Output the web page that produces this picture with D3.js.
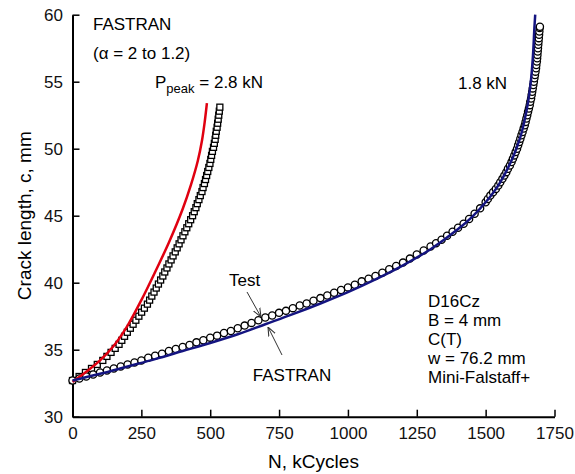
<!DOCTYPE html>
<html>
<head>
<meta charset="utf-8">
<script src="https://cdn.jsdelivr.net/npm/d3@7"></script>
<style>
  body { margin: 0; background: #fff; }
  text { font-family: "Liberation Sans", Arial, sans-serif; }
</style>
</head>
<body>
<svg class="chart"></svg>
<script>
// Test data, 2.8 kN (squares): [N kCycles, c mm]
var test28 = [
  [0,32.7],[24,33.0],[47,33.3],[69,33.6],[90,33.9],[110,34.2],[125,34.5],[140,34.8],
  [155,35.1],[169,35.4],[179,35.7],[189,36.0],[199,36.3],[210,36.6],[220,36.9],[230,37.2],
  [241,37.5],[251,37.8],[261,38.1],[272,38.4],[280,38.7],[288,39.0],[296,39.3],[304,39.6],
  [312,39.9],[320,40.2],[328,40.5],[335,40.8],[343,41.1],[350,41.4],[358,41.7],[365,42.0],
  [373,42.3],[380,42.6],[387,42.9],[394,43.2],[401,43.5],[408,43.8],[415,44.1],[422,44.4],
  [429,44.7],[436,45.0],[442,45.3],[448,45.6],[453,45.9],[459,46.2],[464,46.5],[470,46.8],
  [474,47.1],[479,47.4],[483,47.7],[487,48.0],[491,48.3],[495,48.6],[499,48.9],[502,49.2],
  [505,49.5],[508,49.8],[512,50.1],[515,50.4],[518,50.7],[520,51.0],[522,51.3],[525,51.6],
  [527,51.9],[529,52.2],[531,52.5],[533,52.8],[535,53.1]
];

// Test data, 1.8 kN (circles)
var test18 = [
  [0,32.7],[25,32.85],[50,33.0],[75,33.15],[100,33.3],[125,33.45],[150,33.6],[175,33.75],
  [200,33.9],[225,34.05],[250,34.2],[275,34.4],[300,34.55],[325,34.7],[350,34.9],[375,35.05],
  [400,35.2],[425,35.35],[450,35.55],[475,35.7],[500,35.9],[525,36.05],[550,36.25],[575,36.4],
  [600,36.6],[625,36.8],[650,37.0],[675,37.2],[700,37.4],[725,37.55],[750,37.75],[775,37.9],
  [800,38.1],[825,38.3],[850,38.45],[875,38.65],[900,38.85],[925,39.05],[950,39.25],[975,39.45],
  [1000,39.65],[1025,39.85],[1050,40.1],[1075,40.3],[1100,40.5],[1125,40.75],[1150,41.0],
  [1175,41.25],[1200,41.5],[1225,41.8],[1250,42.1],[1275,42.4],[1300,42.7],[1320,42.95],
  [1340,43.2],[1360,43.5],[1380,43.8],[1400,44.1],[1420,44.4],[1440,44.75],[1460,45.15],
  [1480,45.55],[1500,46.0],[1508,46.25],[1517,46.5],[1527,46.75],[1537,47.0],[1546,47.25],
  [1553,47.5],[1561,47.75],[1568,48.0],[1575,48.25],[1581,48.5],[1588,48.75],[1594,49.0],
  [1599,49.25],[1604,49.5],[1609,49.75],[1614,50.0],[1618,50.25],[1622,50.5],[1626,50.75],
  [1630,51.0],[1634,51.25],[1638,51.5],[1642,51.75],[1645,52.0],[1648,52.25],[1651,52.5],
  [1654,52.75],[1657,53.0],[1660,53.25],[1662,53.5],[1665,53.75],[1667,54.0],[1669,54.25],
  [1671,54.5],[1673,54.75],[1675,55.0],[1677,55.25],[1679,55.5],[1681,55.75],[1683,56.0],
  [1684,56.25],[1686,56.5],[1687,56.75],[1688,57.0],[1689,57.25],[1690,57.5],[1691,57.75],
  [1692,58.0],[1693,58.25],[1694,58.5],[1695,58.75],[1696,59.0],[1697,59.1]
];

// FASTRAN predictions
var fastran28 = [
  [0,32.6],[50,33.35],[100,34.2],[150,35.3],[200,36.8],[250,38.7],[300,40.8],[350,43.0],
  [400,45.5],[430,47.3],[455,49.1],[470,50.6],[480,52.0],[488,53.4]
];
var fastran18 = [
  [0,32.7],[100,33.2],[200,33.75],[300,34.3],[400,34.9],[500,35.5],[600,36.15],[700,36.9],
  [800,37.65],[900,38.45],[1000,39.3],[1100,40.25],[1200,41.3],[1300,42.5],[1400,44.0],
  [1450,44.9],[1500,46.0],[1550,47.4],[1600,49.4],[1625,50.8],[1640,52.0],[1655,53.6],
  [1665,55.2],[1672,57.0],[1677,59.0],[1680,60.0]
];

var xTicks = [0, 250, 500, 750, 1000, 1250, 1500, 1750];
var yTicks = [30, 35, 40, 45, 50, 55, 60];

var infoLines = ['D16Cz', 'B = 4 mm', 'C(T)', 'w = 76.2 mm', 'Mini-Falstaff+'];

var margin = { top: 14.7, right: 20.5, bottom: 57.3, left: 72.5 };
var width = 575 - margin.left - margin.right,
    height = 474 - margin.top - margin.bottom;

var svg = d3.select('.chart')
    .attr('width', 575)
    .attr('height', 474);

var chart = svg.append('g')
    .attr('transform', `translate(${margin.left}, ${margin.top})`);

var x = d3.scaleLinear().domain([0, 1750]).range([0, width]);
var y = d3.scaleLinear().domain([30, 60]).range([height, 0]);

// Axes, ticks pointing inward
var xAxis = chart.append('g')
    .attr('transform', `translate(0, ${height})`)
    .call(d3.axisBottom(x).tickValues(xTicks).tickFormat(d3.format('d'))
      .tickSizeInner(-7).tickSizeOuter(0).tickPadding(10));
var yAxis = chart.append('g')
    .call(d3.axisLeft(y).tickValues(yTicks).tickFormat(d3.format('d'))
      .tickSizeInner(-7).tickSizeOuter(0).tickPadding(9.5));

[xAxis, yAxis].forEach(function(a) {
  a.select('.domain').attr('stroke', '#000').attr('stroke-width', 2);
  a.selectAll('.tick line').attr('stroke', '#000').attr('stroke-width', 1.5);
  a.selectAll('.tick text')
    .attr('font-size', 17)
    .attr('font-family', '"Liberation Sans", Arial, sans-serif')
    .attr('fill', '#111');
});

chart.append('text')
    .attr('x', width / 2).attr('y', height + 51)
    .attr('text-anchor', 'middle')
    .attr('font-size', 19)
    .text('N, kCycles');

chart.append('text')
    .attr('transform', `translate(${-42}, ${height / 2}) rotate(-90)`)
    .attr('text-anchor', 'middle')
    .attr('font-size', 19)
    .text('Crack length, c, mm');

// Test markers
chart.selectAll('.sq')
    .data(test28)
  .enter().append('rect')
    .attr('class', 'sq')
    .attr('x', function(d) { return x(d[0]) - 3; })
    .attr('y', function(d) { return y(d[1]) - 3; })
    .attr('width', 6).attr('height', 6)
    .attr('fill', '#fff').attr('stroke', '#000').attr('stroke-width', 1.3);

chart.selectAll('.circ')
    .data(test18)
  .enter().append('circle')
    .attr('class', 'circ')
    .attr('cx', function(d) { return x(d[0]); })
    .attr('cy', function(d) { return y(d[1]); })
    .attr('r', 3.6)
    .attr('fill', '#fff').attr('stroke', '#000').attr('stroke-width', 1.3);

// FASTRAN lines
var line = d3.line()
    .x(function(d) { return x(d[0]); })
    .y(function(d) { return y(d[1]); })
    .curve(d3.curveCatmullRom.alpha(0.5));

chart.append('path').datum(fastran28)
    .attr('d', line).attr('fill', 'none')
    .attr('stroke', '#e00010').attr('stroke-width', 2.5);
chart.append('path').datum(fastran18)
    .attr('d', line).attr('fill', 'none')
    .attr('stroke', '#141480').attr('stroke-width', 2.5);

// Annotations
chart.append('text').attr('x', 93 - margin.left).attr('y', 30 - margin.top)
    .attr('font-size', 17).text('FASTRAN');
chart.append('text').attr('x', 93 - margin.left).attr('y', 59 - margin.top)
    .attr('font-size', 17).text('(\u03b1 = 2 to 1.2)');

var pk = chart.append('text').attr('x', 155 - margin.left).attr('y', 88 - margin.top)
    .attr('font-size', 17);
pk.append('tspan').text('P');
pk.append('tspan').attr('font-size', 13).attr('dy', 5).text('peak');
pk.append('tspan').attr('dy', -5).text(' = 2.8 kN');

chart.append('text').attr('x', 458 - margin.left).attr('y', 89 - margin.top)
    .attr('font-size', 17).text('1.8 kN');

chart.selectAll('.info')
    .data(infoLines)
  .enter().append('text')
    .attr('class', 'info')
    .attr('x', 428 - margin.left)
    .attr('y', function(d, i) { return 307 - margin.top + i * 19; })
    .attr('font-size', 17)
    .text(function(d) { return d; });

// Leader arrows
var defs = svg.append('defs');
defs.append('marker')
    .attr('id', 'arr')
    .attr('viewBox', '0 0 10 10')
    .attr('refX', 10).attr('refY', 5)
    .attr('markerWidth', 9).attr('markerHeight', 9)
    .attr('markerUnits', 'userSpaceOnUse')
    .attr('orient', 'auto')
  .append('path')
    .attr('d', 'M0,1 L10,5 L0,9')
    .attr('fill', 'none').attr('stroke', '#333').attr('stroke-width', 1.2);

chart.append('text').attr('x', 229 - margin.left).attr('y', 286 - margin.top)
    .attr('font-size', 17).text('Test');
chart.append('line')
    .attr('x1', 247 - margin.left).attr('y1', 292 - margin.top)
    .attr('x2', 261 - margin.left).attr('y2', 317 - margin.top)
    .attr('stroke', '#333').attr('stroke-width', 1)
    .attr('marker-end', 'url(#arr)');

chart.append('text').attr('x', 292 - margin.left).attr('y', 381 - margin.top)
    .attr('text-anchor', 'middle')
    .attr('font-size', 17).text('FASTRAN');
chart.append('line')
    .attr('x1', 282 - margin.left).attr('y1', 355 - margin.top)
    .attr('x2', 268 - margin.left).attr('y2', 327 - margin.top)
    .attr('stroke', '#333').attr('stroke-width', 1)
    .attr('marker-end', 'url(#arr)');
</script>
</body>
</html>
